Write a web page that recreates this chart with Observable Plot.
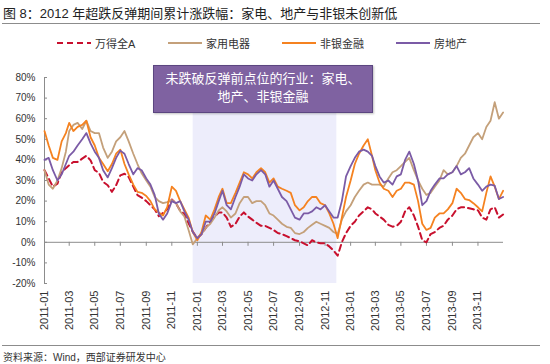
<!DOCTYPE html>
<html><head><meta charset="utf-8">
<script src="https://cdn.jsdelivr.net/npm/d3@7"></script>
<script src="https://cdn.jsdelivr.net/npm/@observablehq/plot@0.6"></script>
<style>
body{margin:0;background:#fff;}
#wrap{position:relative;width:550px;height:364px;overflow:hidden;font-family:"Liberation Sans",Arial,"Noto Sans CJK SC",sans-serif;color:#222;}
#title{position:absolute;left:3px;top:3px;font-size:13px;font-family:"Liberation Sans","Noto Sans CJK SC",sans-serif;color:#222;white-space:nowrap;}
.hr{position:absolute;left:2px;width:538px;height:0;border-top:1.5px solid #8c8c8c;}
.leg{position:absolute;top:35px;font-size:11px;font-family:"Liberation Sans","Noto Sans CJK SC",sans-serif;color:#333;white-space:nowrap;display:flex;align-items:center;}
.leg svg{margin-right:4px;}
#chart{position:absolute;left:0;top:60px;}
#note{position:absolute;left:153px;top:65px;width:218px;height:43px;background:#7f62a1;border:1px solid #5b4680;color:#fff;font-family:"Noto Sans CJK SC",sans-serif;font-size:13px;line-height:18px;text-align:center;padding-top:3px;box-sizing:content-box;box-shadow:1px 1px 2px rgba(0,0,0,0.25);}
#source{position:absolute;left:3px;top:349px;font-size:10px;font-family:"Liberation Sans","Noto Sans CJK SC",sans-serif;color:#333;white-space:nowrap;}
</style></head><body>
<div id="wrap">
  <div id="title">图 8：2012 年超跌反弹期间累计涨跌幅：家电、地产与非银未创新低</div>
  <div class="hr" style="top:23px"></div>
  <div id="legendBox"></div>
  <div id="chart"></div>
  <div id="note">未跌破反弹前点位的行业：家电、<br>地产、非银金融</div>
  <div class="hr" style="top:345px"></div>
  <div id="source">资料来源：Wind，西部证券研发中心</div>
</div>
<script>
// sampling dates: 1st, 11th, 21st of each month 2011-2013, plus 2013-12-31
const years = [2011, 2012, 2013];
const sampleDays = [1, 11, 21];
const dates = [];
for (const y of years) for (let m = 0; m < 12; m++) for (const d of sampleDays) dates.push(new Date(Date.UTC(y, m, d)));
dates.push(new Date(Date.UTC(2013, 11, 31)));

const seriesNames = ["万得全A", "家用电器", "非银金融", "房地产"];
const seriesColors = ["#c8102e", "#c4a07a", "#f58220", "#7b5ba6"];

const windA = [
  35,31,27, 28.5,34,36, 37.4,39,39, 40.6,42,39.8, 35,33.7,29.3, 27.7,24.5,27.7, 32.5,33.3,31.7, 27,22.9,21.7, 20,18,16, 12.7,14.3,16, 20.8,18.8,15.3, 13.7,9.2,5.2,
  2,4,7, 10,12.5,14.5, 14.5,12,7.5, 9,12.5,14.5, 12.5,11,9.5, 8,8,7, 6,4.5,4, 3,2,1, 0.5,-0.5,-1.5, 1,0,-0.5, -0.5,-2,-4, -6.5,0,4.5,
  8,10,13, 15,17,16, 14,12.5,11, 8.5,7.6,8, 10,15,17, 13,7.6,1, 0,4,5, 7,8,11, 13,16,17, 17,16.5,16, 15.5,12,11, 16,17,12, 13.5
];
const appliances = [
  35,28,26, 30,36,44, 54,57,58, 55,59,54, 53,53,46, 41,44,49, 51,54,49, 43,38,33.5, 30,27,22, 20,19,19.5, 20.5,19,15, 12.5,6,-1,
  2,4,7, 9,12,15.5, 17,15,12, 14,19,22, 22,19,20, 20,18,14, 13,11,9, 7.5,7,4.5, 4,5,7, 8.5,10,9, 8,7,5, 4,11,15,
  18,22,25, 28,29,28, 28,28,27, 31,34,35, 37,39,41, 35,30,26, 23,24,27, 30,35,33, 34,37,41, 43,47,51, 53,50,56, 59,68,60, 63
];
const nonBankFin = [
  54,47,41, 40,49,53, 58,54,56, 57,59,51, 47,41,38, 34.5,38,43, 45,38,33, 28,24.5,24, 22.5,20,16, 14.5,13,17, 27,25,20, 16,12,5,
  1,5,13, 11,16,22, 26,19,19, 24,29,34, 33,31,34, 36,34,29, 31,27,26, 25,24,18, 15.5,17,20, 22,22,19, 18,14,9, 2,12,22,
  30,38,43, 47,50,42, 35,29,26, 25,22,25, 26,29,29, 28,20,9, 6,7,12, 14,14,16, 19,26,24, 21,20.5,19, 17,15,24, 32,27,21, 25
];
const realEstate = [
  40,41,35, 30,33,38, 42,44,47, 50,53,48, 44,41,35, 31.5,36,41, 44.5,43,38, 33,36,35, 31,28,23, 14,11,14, 20,19,20, 15,11,5,
  2,4,10, 10,14,20, 25,18,16, 22,27,33, 31,30,33, 35,33,27, 30,26,22, 20,16,12, 11,14,14, 15,17,16, 18,15,12, 12,20,32,
  37,41,44, 45,44,42, 37,32,29, 30,28,32, 33,40,44, 38,30,18, 20,25,28, 31,31,33, 34,37,33, 34,36,31, 28,25,27, 28,27.5,21, 22
];
const seriesValues = [windA, appliances, nonBankFin, realEstate];

const xStart = new Date(Date.UTC(2011, 0, 1));
const xEnd = new Date(Date.UTC(2014, 0, 1));
const xTicks = d3.utcMonth.every(2).range(xStart, xEnd);
const yTicks = [-20, -10, 0, 10, 20, 30, 40, 50, 60, 70, 80];
const shade = [{start: new Date(Date.UTC(2011, 11, 22)), end: new Date(Date.UTC(2012, 10, 29))}];

// legend
const legendLeft = [57, 168, 282, 396];
const lb = document.getElementById("legendBox");
seriesNames.forEach((name, i) => {
  const div = document.createElement("div");
  div.className = "leg";
  div.style.left = legendLeft[i] + "px";
  const dash = i === 0 ? 'stroke-dasharray="6,4"' : "";
  div.innerHTML = `<svg width="34" height="12"><line x1="0" y1="6" x2="34" y2="6" stroke="${seriesColors[i]}" stroke-width="2" ${dash}/></svg><span>${name}</span>`;
  lb.appendChild(div);
});

const table = (vals) => dates.map((d, i) => ({date: d, value: vals[i]}));

const marks = [
  Plot.rect(shade, {x1: "start", x2: "end", fill: "#ededfb"}),
  Plot.ruleY([0], {stroke: "#8c8c8c", strokeWidth: 1}),
  Plot.ruleX([xStart], {stroke: "#8c8c8c", strokeWidth: 1}),
  Plot.ruleX(xTicks, {x: d => d, y1: 0, y2: 0, insetBottom: -4, stroke: "#8c8c8c"}),
  Plot.ruleY(yTicks, {y: d => d, x1: xStart, x2: xStart, insetRight: -3, stroke: "#8c8c8c"}),
  Plot.axisY({ticks: yTicks, tickFormat: d => d + "%", tickSize: 0, tickPadding: 9, fontSize: 10, label: null}),
  Plot.axisX({ticks: xTicks, tickFormat: d3.utcFormat("%Y-%m"), tickRotate: -90, tickSize: 0, tickPadding: 7, fontSize: 11, label: null})
];
seriesValues.forEach((vals, i) => {
  marks.push(Plot.line(table(vals), {
    x: "date", y: "value", stroke: seriesColors[i], strokeWidth: i === 0 ? 2 : 1.8,
    strokeDasharray: i === 0 ? "6,4" : null, curve: "linear"
  }));
});

const chart = Plot.plot({
  width: 550, height: 285,
  marginTop: 17, marginBottom: 62, marginLeft: 44, marginRight: 47,
  x: {type: "utc", domain: [xStart, xEnd]},
  y: {domain: [-20, 80]},
  style: {fontFamily: "Liberation Sans, Arial, sans-serif", fontSize: "10px", color: "#333", background: "transparent", overflow: "visible"},
  marks
});
document.getElementById("chart").appendChild(chart);
</script>
</body></html>
